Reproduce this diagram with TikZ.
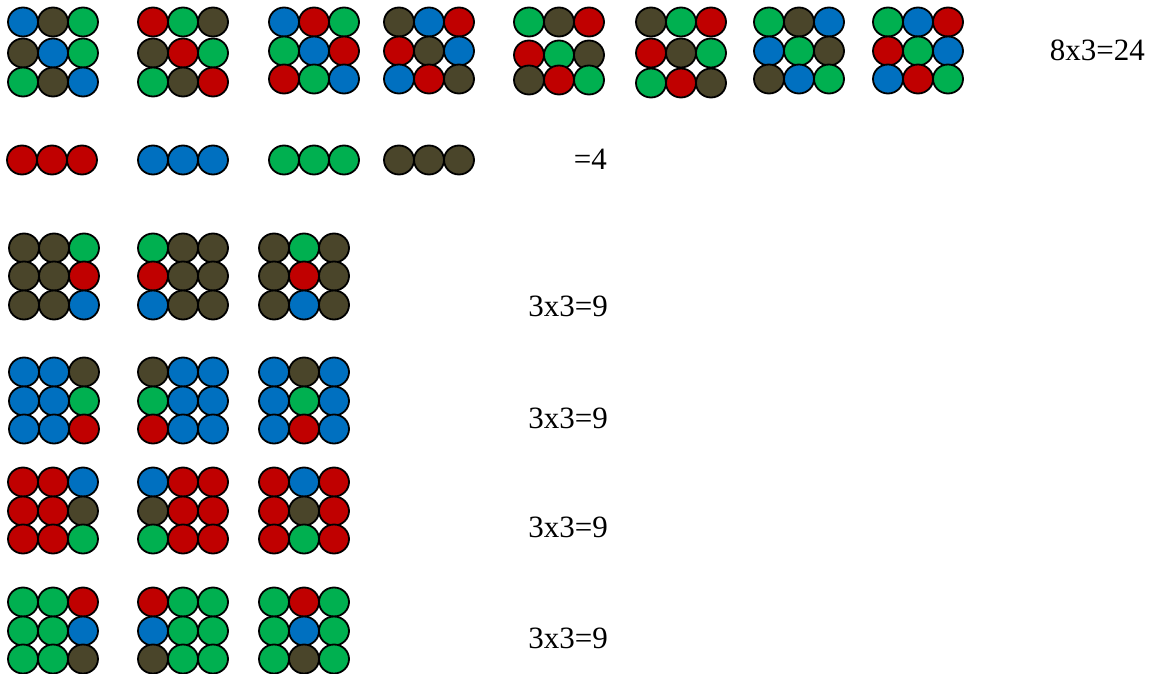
\documentclass[tikz,border=0pt]{standalone}
\usepackage{fontspec}
\setmainfont{Liberation Serif}
\definecolor{B}{HTML}{0070C0}
\definecolor{R}{HTML}{C00000}
\definecolor{G}{HTML}{00B050}
\definecolor{K}{HTML}{4A452A}
\tikzset{
  ball/.style={draw=black, line width=1.8pt},
  lbl/.style={font=\fontsize{31}{36}\selectfont, inner sep=0pt, anchor=base east}
}
\newcommand\mygrid[3]{%
  \foreach \c [count=\i from 0] in {#3} {
    \pgfmathtruncatemacro\col{mod(\i,3)}
    \pgfmathtruncatemacro\row{int(\i/3)}
    \pgfmathsetmacro\yy{{#2}[\row]}
    \draw[ball, fill=\c] ({#1+30*\col},\yy) ellipse [x radius=15, y radius=14.5];
  }}
\newcommand\myrow[3]{%
  \foreach \c [count=\i from 0] in {#3} {
    \draw[ball, fill=\c] ({#1+30*\i},#2) ellipse [x radius=15, y radius=14.5];
  }}
\begin{document}
\begin{tikzpicture}[x=1pt,y=-1pt]
\useasboundingbox (0,0) rectangle (1152,674);
% row 1
\mygrid{23}{22,53,82}{B,K,G,K,B,G,G,K,B}
\mygrid{153}{22,53,82}{R,G,K,K,R,G,G,K,R}
\mygrid{284}{22,51,79}{B,R,G,G,B,R,R,G,B}
\mygrid{399}{22,51,79}{K,B,R,R,K,B,B,R,K}
\mygrid{529}{22,55,80}{G,K,R,R,G,K,K,R,G}
\mygrid{651}{22,53,83}{K,G,R,R,K,G,G,R,K}
\mygrid{769}{22,51,79}{G,K,B,B,G,K,K,B,G}
\mygrid{888}{22,51,79}{G,B,R,R,G,B,B,R,G}
\node[lbl] (t1) at (1145,61) {8x3=24};
% row 2
\myrow{22}{160}{R,R,R}
\myrow{153}{160}{B,B,B}
\myrow{284}{160}{G,G,G}
\myrow{399}{160}{K,K,K}
\node[lbl] (t2) at (607,170) {=4};
% row 3
\mygrid{24}{248,276,305}{K,K,G,K,K,R,K,K,B}
\mygrid{153}{248,276,305}{G,K,K,R,K,K,B,K,K}
\mygrid{274}{248,276,305}{K,G,K,K,R,K,K,B,K}
\node[lbl] (t3) at (608,316) {3x3=9};
% row 4
\mygrid{24}{372,401,429}{B,B,K,B,B,G,B,B,R}
\mygrid{153}{372,401,429}{K,B,B,G,B,B,R,B,B}
\mygrid{274}{372,401,429}{B,K,B,B,G,B,B,R,B}
\node[lbl] (t4) at (608,428) {3x3=9};
% row 5
\mygrid{23}{482,511,539}{R,R,B,R,R,K,R,R,G}
\mygrid{153}{482,511,539}{B,R,R,K,R,R,G,R,R}
\mygrid{274}{482,511,539}{R,B,R,R,K,R,R,G,R}
\node[lbl] (t5) at (608,537) {3x3=9};
% row 6
\mygrid{23}{602,631,659}{G,G,R,G,G,B,G,G,K}
\mygrid{153}{602,631,659}{R,G,G,B,G,G,K,G,G}
\mygrid{274}{602,631,659}{G,R,G,G,B,G,G,K,G}
\node[lbl] (t6) at (608,648) {3x3=9};
\end{tikzpicture}
\end{document}
